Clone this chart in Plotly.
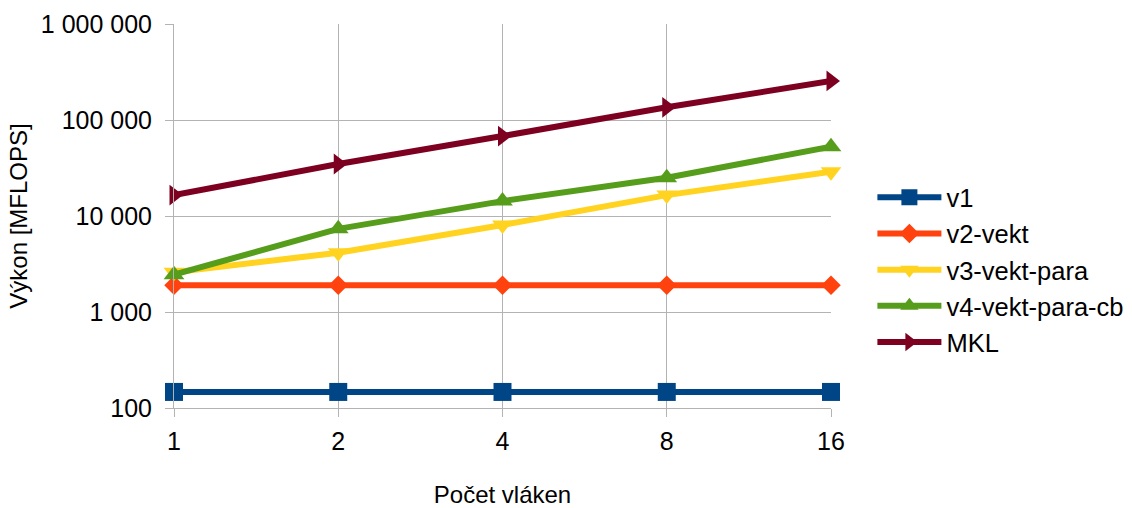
import plotly.graph_objects as go

# Thread counts on the x axis
threads = ["1", "2", "4", "8", "16"]

# Performance in MFLOPS for each implementation
v1 = [147, 147, 147, 147, 147]
v2_vekt = [1900, 1900, 1900, 1900, 1900]
v3_vekt_para = [2600, 4150, 8050, 16500, 28900]
v4_vekt_para_cb = [2450, 7350, 14300, 25000, 52700]
mkl = [16500, 34800, 68000, 135500, 255000]

y_tickvals = [100, 1000, 10000, 100000, 1000000]
y_ticktext = ["100", "1 000", "10 000", "100 000", "1 000 000"]

series = [
    ("v1", v1, "#004586", "square", 18),
    ("v2-vekt", v2_vekt, "#ff420e", "diamond", 15),
    ("v3-vekt-para", v3_vekt_para, "#ffd320", "triangle-down", 18),
    ("v4-vekt-para-cb", v4_vekt_para_cb, "#579d1c", "triangle-up", 18),
    ("MKL", mkl, "#7e0021", "triangle-right", 18),
]

fig = go.Figure()
for name, vals, color, symbol, size in series:
    fig.add_trace(go.Scatter(
        x=threads, y=vals, name=name, mode="lines+markers",
        line=dict(color=color, width=6),
        marker=dict(symbol=symbol, size=size, color=color),
        cliponaxis=False, legendgroup=name,
    ))

grid = "#b3b3b3"
font_family = "Liberation Sans, Arial, sans-serif"

fig.update_layout(
    width=1132, height=508,
    margin=dict(l=174, r=301, t=24, b=100, autoexpand=False),
    paper_bgcolor="white", plot_bgcolor="white",
    font=dict(family=font_family, size=25, color="black"),
    showlegend=True,
    legend=dict(
        x=1.063, xanchor="left", y=0.36, yanchor="middle",
        font=dict(size=25.5), itemwidth=64, tracegroupgap=0,
        bgcolor="rgba(0,0,0,0)",
    ),
    xaxis=dict(
        type="category", range=[0, 4], automargin=False,
        showgrid=True, gridcolor=grid, gridwidth=1,
        showline=True, linecolor=grid, linewidth=1,
        ticks="outside", ticklen=8, tickcolor=grid,
        ticklabelstandoff=3,
        title=dict(text="Počet vláken", font=dict(size=24), standoff=34),
        zeroline=False,
    ),
    yaxis=dict(
        type="log", range=[2, 6], automargin=False,
        tickvals=y_tickvals, ticktext=y_ticktext,
        showgrid=True, gridcolor=grid, gridwidth=1,
        showline=True, linecolor=grid, linewidth=1,
        ticks="outside", ticklen=8, tickcolor=grid,
        ticklabelstandoff=8,
        title=dict(text="Výkon [MFLOPS]", font=dict(size=24), standoff=6),
        zeroline=False,
    ),
)

fig.write_html("out.html")
